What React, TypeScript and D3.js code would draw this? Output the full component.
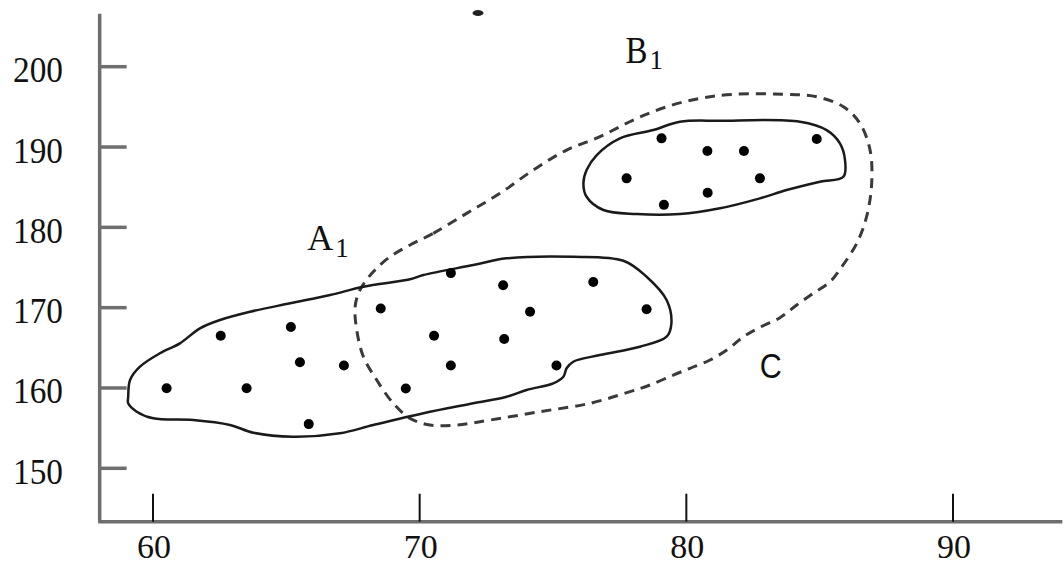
import React from "react";
import * as d3 from "d3";

// ---- data ----
const xTicks = [60, 70, 80, 90];
const yTicks = [150, 160, 170, 180, 190, 200];

// points of cluster A1
const pointsAx = [60.51, 63.51, 62.54, 65.17, 65.51, 67.16, 65.84, 68.54, 69.48, 71.17, 73.13, 76.51, 78.51, 74.14, 70.54, 73.17, 71.17, 75.13];
const pointsAy = [159.96, 159.96, 166.5, 167.6, 163.2, 162.8, 155.5, 169.9, 159.93, 174.3, 172.8, 173.2, 169.8, 169.5, 166.5, 166.1, 162.8, 162.8];

// points of cluster B1
const pointsBx = [79.07, 80.79, 82.16, 84.89, 77.76, 82.76, 80.8, 79.16];
const pointsBy = [191.08, 189.5, 189.5, 191.0, 186.1, 186.1, 184.3, 182.8];

// outline A1 (solid)
const outlineAx = [59.07, 59.14, 59.51, 60.26, 61.01, 61.76, 62.51, 63.64, 65.14, 66.64, 67.89, 69.64, 70.14, 72.01, 73.26, 75.76, 77.64, 78.51, 79.26, 79.44, 79.26, 78.26, 76.76, 75.76, 75.51, 75.39, 75.01, 74.01, 73.26, 72.01, 70.14, 68.26, 67.01, 65.25, 63.76, 62.89, 61.51, 60.01, 59.39, 59.07];
const outlineAy = [158.91, 161.0, 162.65, 164.32, 165.56, 167.43, 168.46, 169.49, 170.54, 171.57, 172.61, 173.53, 174.06, 175.31, 176.14, 176.34, 175.84, 173.85, 170.95, 168.05, 166.38, 165.14, 164.1, 163.27, 162.45, 161.4, 160.58, 159.75, 158.91, 158.09, 156.85, 155.39, 154.36, 153.93, 154.43, 155.39, 156.01, 156.22, 157.05, 158.09];

// outline B1 (solid)
const outlineBx = [76.26, 76.64, 77.51, 78.76, 79.76, 81.26, 84.26, 85.26, 85.76, 85.95, 85.89, 85.01, 83.76, 82.76, 81.26, 79.76, 78.14, 76.89, 76.26, 76.14];
const outlineBy = [187.13, 189.0, 191.08, 192.11, 193.15, 193.27, 193.15, 192.11, 190.46, 188.38, 186.3, 185.68, 184.64, 183.61, 182.37, 181.66, 181.66, 182.16, 183.81, 185.48];

// outline C (dashed)
const outlineCx = [69.64, 70.51, 71.76, 73.01, 74.26, 75.51, 76.76, 78.01, 79.26, 80.51, 81.76, 83.64, 84.89, 85.89, 86.51, 86.89, 86.95, 86.76, 86.39, 85.83, 85.39, 84.76, 84.14, 83.51, 82.76, 82.14, 81.57, 80.89, 80.14, 79.51, 78.64, 77.89, 76.39, 74.51, 72.64, 71.39, 70.39, 69.64, 69.01, 68.39, 67.89, 67.64, 67.58, 67.76, 68.26, 68.89];
const outlineCy = [177.8, 179.25, 181.74, 184.23, 187.13, 189.62, 191.28, 193.36, 195.01, 196.06, 196.56, 196.56, 196.26, 195.01, 192.95, 189.62, 185.48, 181.32, 178.01, 175.1, 173.23, 171.78, 170.33, 168.75, 167.55, 166.38, 164.85, 163.48, 162.45, 161.61, 160.37, 159.54, 158.09, 157.05, 156.01, 155.39, 155.39, 156.22, 158.09, 160.99, 163.89, 167.22, 170.12, 172.2, 174.47, 176.34];

// region labels (data positions)
const labelNames = ["A", "B", "C"];
const labelX = [65.78, 77.72, 82.75];
const labelY = [177.2, 200.45, 161.3];

// axis extents
const xAxisStart = 58.0;
const xAxisEnd = 94.1;
const yAxisStart = 143.35;
const yAxisEnd = 206.6;

export default function App() {
  const width = 1064;
  const height = 566;
  const x = d3.scaleLinear().domain([60, 90]).range([153, 953]);
  const y = d3.scaleLinear().domain([150, 200]).range([468.3, 66.7]);

  const closed = d3
    .line<[number, number]>()
    .x((d) => x(d[0]))
    .y((d) => y(d[1]))
    .curve(d3.curveCatmullRomClosed.alpha(0.5));

  const toPts = (xs: number[], ys: number[]) =>
    xs.map((v, i) => [v, ys[i]] as [number, number]);

  const axisColor = "#6e6e6e";
  const serif = "'Liberation Serif', 'DejaVu Serif', serif";

  return (
    <svg
      width={width}
      height={height}
      style={{ position: "absolute", left: 0, top: 0, background: "#fff" }}
    >
      <rect x={0} y={0} width={width} height={height} fill="#fff" />
      {/* small cropped mark at top */}
      <ellipse cx={478} cy={13} rx={5.5} ry={3} fill="#222" />

      {/* axes */}
      <line
        x1={x(xAxisStart)}
        x2={x(xAxisStart)}
        y1={y(yAxisEnd)}
        y2={y(yAxisStart)}
        stroke={axisColor}
        strokeWidth={3.5}
      />
      <line
        x1={x(xAxisStart) - 1.5}
        x2={x(xAxisEnd)}
        y1={y(yAxisStart)}
        y2={y(yAxisStart)}
        stroke={axisColor}
        strokeWidth={3.5}
      />

      {/* y ticks */}
      {yTicks.map((t) => (
        <g key={"yt" + t}>
          <line
            x1={x(xAxisStart)}
            x2={x(xAxisStart) + 27}
            y1={y(t)}
            y2={y(t)}
            stroke={axisColor}
            strokeWidth={3.5}
          />
          <text
            x={63}
            y={y(t) + 15.5}
            textAnchor="end"
            fontFamily={serif}
            fontSize={36}
            fill="#111"
            textLength={50}
            lengthAdjust="spacingAndGlyphs"
          >
            {t}
          </text>
        </g>
      ))}

      {/* x ticks */}
      {xTicks.map((t) => (
        <g key={"xt" + t}>
          <line
            x1={x(t)}
            x2={x(t)}
            y1={y(yAxisStart)}
            y2={y(yAxisStart) - 28}
            stroke="#111"
            strokeWidth={2}
          />
          <text
            x={x(t) + 1}
            y={558}
            textAnchor="middle"
            fontFamily={serif}
            fontSize={33}
            fill="#111"
            textLength={34}
            lengthAdjust="spacingAndGlyphs"
          >
            {t}
          </text>
        </g>
      ))}

      {/* outlines */}
      <path
        d={closed(toPts(outlineCx, outlineCy)) || ""}
        fill="none"
        stroke="#3a3a3a"
        strokeWidth={3}
        strokeDasharray="10 7"
      />
      <path
        d={closed(toPts(outlineAx, outlineAy)) || ""}
        fill="none"
        stroke="#1a1a1a"
        strokeWidth={2.5}
      />
      <path
        d={closed(toPts(outlineBx, outlineBy)) || ""}
        fill="none"
        stroke="#1a1a1a"
        strokeWidth={2.5}
      />

      {/* points */}
      {pointsAx.map((v, i) => (
        <circle key={"a" + i} cx={x(v)} cy={y(pointsAy[i])} r={5} fill="#000" />
      ))}
      {pointsBx.map((v, i) => (
        <circle key={"b" + i} cx={x(v)} cy={y(pointsBy[i])} r={5} fill="#000" />
      ))}

      {/* labels */}
      <text x={x(labelX[0])} y={y(labelY[0])} fontFamily={serif} fontSize={36} fill="#111" textLength={26} lengthAdjust="spacingAndGlyphs">
        {labelNames[0]}
      </text>
      <text x={x(labelX[0]) + 28} y={y(labelY[0]) + 7} fontFamily={serif} fontSize={27} fill="#111">
        1
      </text>
      <text x={x(labelX[1])} y={y(labelY[1])} fontFamily={serif} fontSize={38} fill="#111" textLength={22} lengthAdjust="spacingAndGlyphs">
        {labelNames[1]}
      </text>
      <text x={x(labelX[1]) + 24} y={y(labelY[1]) + 6} fontFamily={serif} fontSize={27} fill="#111">
        1
      </text>
      <text x={x(labelX[2])} y={y(labelY[2])} fontFamily="'Liberation Sans', Arial, sans-serif" fontSize={35} fill="#111" textLength={22} lengthAdjust="spacingAndGlyphs">
        {labelNames[2]}
      </text>
    </svg>
  );
}
